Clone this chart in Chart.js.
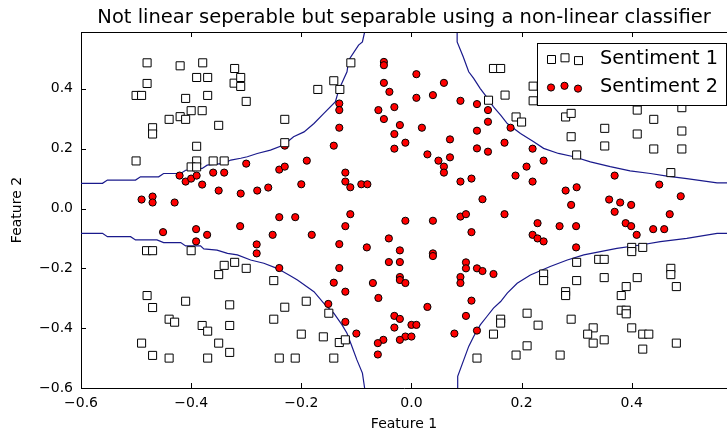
<!DOCTYPE html>
<html>
<head>
<meta charset="utf-8">
<script src="https://cdn.jsdelivr.net/npm/chart.js@4.4.1/dist/chart.umd.min.js"></script>
<style>
  body { margin: 0; background: #fff; }
  canvas { display: block; }
</style>
</head>
<body>
<canvas id="chart" width="727" height="433"></canvas>
<script>
// axis ticks
const xTicks = [-0.6, -0.4, -0.2, 0.0, 0.2, 0.4];
const yTicks = [-0.6, -0.4, -0.2, 0.0, 0.2, 0.4];

// class 1 (squares)
const sentiment1 = [
  [-0.48,0.487],[-0.42,0.477],[-0.379,0.487],[-0.321,0.468],[-0.48,0.418],[-0.39,0.438],[-0.37,0.438],
  [-0.322,0.419],[-0.31,0.438],[-0.31,0.408],[-0.50,0.378],[-0.49,0.378],[-0.41,0.368],[-0.37,0.378],
  [-0.30,0.358],[-0.40,0.327],[-0.38,0.327],[-0.44,0.298],[-0.42,0.307],[-0.41,0.298],[-0.47,0.27],
  [-0.47,0.249],[-0.35,0.278],[-0.23,0.298],[-0.39,0.208],[-0.50,0.159],[-0.39,0.159],[-0.40,0.139],
  [-0.39,0.139],[-0.36,0.159],[-0.34,0.159],[-0.23,0.22],
  [-0.11,0.487],[-0.17,0.398],[-0.141,0.427],[-0.13,0.398],[0.149,0.468],[0.14,0.362],
  [0.162,0.468],[0.17,0.379],[0.221,0.409],[0.221,0.36],[0.19,0.306],[0.2,0.289],[0.28,0.306],
  [0.29,0.318],[0.29,0.24],[0.30,0.179],[0.351,0.268],[0.351,0.209],[0.41,0.329],[0.41,0.249],
  [0.44,0.298],[0.44,0.199],[0.491,0.337],[0.491,0.259],[0.491,0.199],[0.471,0.12],
  [-0.481,-0.141],[-0.47,-0.141],[-0.4,-0.141],[-0.35,-0.221],[-0.34,-0.19],[-0.321,-0.18],[-0.30,-0.2],
  [-0.25,-0.241],[-0.23,-0.33],[-0.48,-0.291],[-0.47,-0.331],[-0.41,-0.31],[-0.33,-0.322],[-0.44,-0.37],
  [-0.43,-0.38],[-0.38,-0.391],[-0.37,-0.41],[-0.33,-0.391],[-0.25,-0.37],[-0.49,-0.45],[-0.35,-0.45],
  [-0.47,-0.491],[-0.44,-0.5],[-0.37,-0.5],[-0.33,-0.481],[-0.24,-0.5],
  [-0.191,-0.31],[-0.15,-0.35],[-0.2,-0.42],[-0.16,-0.429],[-0.131,-0.448],[-0.12,-0.439],[-0.211,-0.5],
  [-0.141,-0.5],[0.119,-0.5],[0.149,-0.42],
  [0.40,-0.13],[0.40,-0.144],[0.42,-0.13],[0.30,-0.18],[0.34,-0.17],[0.35,-0.17],[0.24,-0.219],
  [0.24,-0.241],[0.30,-0.241],[0.35,-0.231],[0.41,-0.231],[0.471,-0.2],[0.471,-0.221],[0.481,-0.261],
  [0.39,-0.261],[0.381,-0.291],[0.28,-0.278],[0.28,-0.291],[0.162,-0.37],[0.162,-0.383],[0.21,-0.35],
  [0.23,-0.39],[0.29,-0.37],[0.381,-0.34],[0.39,-0.34],[0.39,-0.352],[0.40,-0.399],[0.33,-0.399],
  [0.32,-0.42],[0.33,-0.45],[0.35,-0.439],[0.42,-0.42],[0.431,-0.42],[0.42,-0.47],[0.481,-0.45],
  [0.21,-0.459],[0.19,-0.49],[0.27,-0.49]
];

// class 2 (red circles)
const sentiment2 = [
  [-0.421,0.11],[-0.41,0.09],[-0.40,0.10],[-0.39,0.11],[-0.38,0.08],[-0.36,0.12],[-0.34,0.12],[-0.30,0.15],
  [-0.35,0.06],[-0.31,0.05],[-0.28,0.06],[-0.26,0.07],[-0.24,0.13],[-0.23,0.14],[-0.23,0.21],[-0.49,0.03],
  [-0.47,0.04],[-0.47,0.02],[-0.43,0.02],
  [-0.05,0.49],[-0.05,0.479],[0.009,0.449],[-0.05,0.42],[0.059,0.42],[-0.04,0.39],[0.039,0.379],[0.009,0.37],
  [0.089,0.36],[0.119,0.349],[0.139,0.329],[-0.131,0.351],[-0.131,0.329],[-0.06,0.329],[-0.031,0.339],
  [-0.05,0.299],[0.139,0.29],[-0.131,0.27],[-0.021,0.279],[0.019,0.27],[0.119,0.26],[-0.031,0.249],
  [-0.141,0.21],[-0.011,0.22],[0.07,0.231],[-0.031,0.2],[0.029,0.181],[0.07,0.171],[0.049,0.16],
  [0.059,0.14],[0.059,0.12],[0.119,0.201],[0.139,0.19],[-0.19,0.16],[-0.2,0.081],[-0.12,0.12],[-0.12,0.09],
  [-0.111,0.071],[-0.091,0.081],[-0.08,0.081],[0.089,0.09],[0.109,0.1],[0.129,0.031],
  [0.18,0.27],[0.169,0.22],[0.22,0.2],[0.24,0.16],[0.209,0.14],[0.189,0.11],[0.22,0.09],[0.369,0.11],
  [0.45,0.08],[0.28,0.06],[0.30,0.071],[0.489,0.041],[0.29,0.012],[0.359,0.03],[0.379,0.02],[0.399,0.012],
  [-0.24,-0.029],[-0.311,-0.059],[-0.451,-0.079],[-0.391,-0.069],[-0.371,-0.088],[-0.391,-0.11],
  [-0.252,-0.088],[-0.281,-0.12],[-0.281,-0.15],[-0.24,-0.199],
  [-0.211,-0.029],[-0.111,-0.019],[-0.12,-0.059],[-0.181,-0.088],[-0.131,-0.119],[-0.011,-0.041],
  [0.039,-0.041],[-0.041,-0.1],[-0.081,-0.13],[-0.021,-0.14],[0.039,-0.15],[0.039,-0.159],[-0.041,-0.179],
  [-0.021,-0.179],[-0.131,-0.199],[-0.021,-0.229],[-0.021,-0.239],[-0.011,-0.249],[-0.07,-0.249],
  [-0.141,-0.248],[-0.12,-0.278],[-0.06,-0.299],[-0.151,-0.319],[0.029,-0.329],[-0.031,-0.359],
  [-0.021,-0.369],[-0.031,-0.398],[0,-0.389],[0.009,-0.389],[-0.12,-0.379],[-0.1,-0.418],[-0.011,-0.428],
  [0,-0.428],[-0.021,-0.439],[-0.051,-0.439],[-0.061,-0.45],[-0.061,-0.488],[0.078,-0.418],[0.089,-0.027],
  [0.099,-0.019],[0.109,-0.079],[0.099,-0.18],[0.099,-0.2],[0.119,-0.2],[0.129,-0.209],[0.149,-0.219],
  [0.089,-0.229],[0.089,-0.249],[0.109,-0.308],[0.099,-0.359],[0.119,-0.408],
  [0.169,-0.019],[0.369,-0.011],[0.469,-0.019],[0.229,-0.049],[0.269,-0.059],[0.299,-0.059],[0.389,-0.049],
  [0.399,-0.059],[0.439,-0.069],[0.459,-0.069],[0.409,-0.088],[0.22,-0.088],[0.229,-0.1],[0.24,-0.11],
  [0.299,-0.13]
];

// decision boundary, four branches
const boundaryTopLeft = [
  [-0.6,0.084],[-0.561,0.084],[-0.552,0.095],[-0.501,0.095],[-0.492,0.106],[-0.459,0.106],[-0.45,0.117],
  [-0.419,0.117],[-0.41,0.128],[-0.38,0.134],[-0.371,0.145],[-0.341,0.151],[-0.328,0.162],[-0.31,0.168],
  [-0.298,0.173],[-0.28,0.184],[-0.256,0.195],[-0.232,0.212],[-0.214,0.24],[-0.195,0.256],[-0.177,0.284],
  [-0.159,0.318],[-0.138,0.357],[-0.132,0.396],[-0.117,0.457],[-0.114,0.496],[-0.096,0.546],[-0.089,0.557],
  [-0.085,0.59]
];
const boundaryTopRight = [
  [0.083,0.59],[0.083,0.557],[0.094,0.507],[0.104,0.457],[0.113,0.435],[0.125,0.401],[0.134,0.379],
  [0.149,0.34],[0.162,0.312],[0.174,0.284],[0.198,0.251],[0.222,0.223],[0.24,0.201],[0.267,0.184],
  [0.295,0.173],[0.325,0.156],[0.361,0.14],[0.397,0.126],[0.434,0.117],[0.464,0.108],[0.5,0.1],
  [0.555,0.086],[0.58,0.086]
];
const boundaryBottomLeft = [
  [-0.6,-0.083],[-0.561,-0.083],[-0.552,-0.094],[-0.51,-0.094],[-0.501,-0.105],[-0.462,-0.105],
  [-0.45,-0.114],[-0.419,-0.114],[-0.41,-0.125],[-0.383,-0.125],[-0.377,-0.135],[-0.353,-0.139],
  [-0.334,-0.15],[-0.316,-0.155],[-0.292,-0.172],[-0.268,-0.183],[-0.244,-0.2],[-0.22,-0.225],
  [-0.207,-0.239],[-0.177,-0.278],[-0.159,-0.317],[-0.141,-0.35],[-0.126,-0.389],[-0.117,-0.417],
  [-0.108,-0.461],[-0.099,-0.506],[-0.089,-0.55],[-0.085,-0.6]
];
const boundaryBottomRight = [
  [0.083,-0.6],[0.084,-0.561],[0.095,-0.506],[0.104,-0.461],[0.113,-0.428],[0.125,-0.389],[0.137,-0.361],
  [0.149,-0.333],[0.162,-0.311],[0.174,-0.283],[0.192,-0.25],[0.216,-0.222],[0.252,-0.194],[0.283,-0.172],
  [0.313,-0.155],[0.343,-0.144],[0.373,-0.133],[0.416,-0.122],[0.452,-0.111],[0.5,-0.1],[0.555,-0.083],
  [0.58,-0.083]
];

const FONT = "'DejaVu Sans', 'Liberation Sans', sans-serif";
const toXY = (pts) => pts.map(p => ({ x: p[0], y: p[1] }));
const fmt = (v) => (v < 0 ? '\u2212' : '') + Math.abs(v).toFixed(1);

function boundary(pts) {
  return {
    type: 'line',
    label: '',
    data: toXY(pts),
    borderColor: '#1a1a8c',
    borderWidth: 1.2,
    pointRadius: 0,
    fill: false,
    tension: 0,
    order: 3,
  };
}

// matplotlib-ish frame: top spine plus inward ticks
const frameTicks = {
  id: 'frameTicks',
  afterDatasetsDraw(chart) {
    const { ctx, chartArea: a, scales } = chart;
    ctx.save();
    ctx.strokeStyle = '#000';
    ctx.lineWidth = 1;
    ctx.beginPath();
    ctx.moveTo(a.left, a.top + 0.5);
    ctx.lineTo(a.right, a.top + 0.5);
    xTicks.forEach(v => {
      const px = Math.round(scales.x.getPixelForValue(v)) + 0.5;
      ctx.moveTo(px, a.bottom);
      ctx.lineTo(px, a.bottom - 5);
      ctx.moveTo(px, a.top);
      ctx.lineTo(px, a.top + 5);
    });
    yTicks.forEach(v => {
      const py = Math.round(scales.y.getPixelForValue(v)) + 0.5;
      ctx.moveTo(a.left, py);
      ctx.lineTo(a.left + 5, py);
    });
    ctx.stroke();
    ctx.restore();
  }
};

// legend with three markers per entry
const scatterLegend = {
  id: 'scatterLegend',
  afterDraw(chart) {
    const { ctx } = chart;
    const ds = chart.data.datasets;
    const box = { x: 537.5, y: 43.5, w: 189, h: 62 };
    ctx.save();
    ctx.fillStyle = '#fff';
    ctx.strokeStyle = '#000';
    ctx.lineWidth = 1;
    ctx.fillRect(box.x, box.y, box.w, box.h);
    ctx.strokeRect(box.x, box.y, box.w, box.h);
    const rows = [58.5, 87];
    const jitter = [0.5, -1.2, 1.6];
    const mx = [551, 564.5, 578];
    ctx.font = '19.3px ' + FONT;
    ctx.textBaseline = 'middle';
    [0, 1].forEach(i => {
      const d = ds[i];
      mx.forEach((x, k) => {
        const y = rows[i] + jitter[k];
        ctx.beginPath();
        if (d.pointStyle === 'rect') {
          ctx.rect(x - 3.5, y - 3.5, 8, 8);
        } else {
          ctx.arc(x, y, d.pointRadius, 0, Math.PI * 2);
        }
        ctx.fillStyle = d.backgroundColor;
        ctx.fill();
        ctx.strokeStyle = d.borderColor;
        ctx.stroke();
      });
      ctx.fillStyle = '#000';
      ctx.fillText(d.label, 600, rows[i]);
    });
    ctx.restore();
  }
};

new Chart(document.getElementById('chart'), {
  type: 'scatter',
  data: {
    datasets: [
      {
        label: 'Sentiment 1',
        data: toXY(sentiment1),
        pointStyle: 'rect',
        pointRadius: 5.7,
        backgroundColor: '#ffffff',
        borderColor: '#000000',
        borderWidth: 1,
        order: 1,
      },
      {
        label: 'Sentiment 2',
        data: toXY(sentiment2),
        pointStyle: 'circle',
        pointRadius: 3.6,
        backgroundColor: '#ff0000',
        borderColor: '#000000',
        borderWidth: 1,
        order: 2,
      },
      boundary(boundaryTopLeft),
      boundary(boundaryTopRight),
      boundary(boundaryBottomLeft),
      boundary(boundaryBottomRight),
    ]
  },
  options: {
    responsive: false,
    animation: false,
    layout: { padding: 0, autoPadding: false },
    clip: true,
    scales: {
      x: {
        type: 'linear',
        min: -0.6,
        max: 0.573,
        afterBuildTicks: (s) => { s.ticks = xTicks.map(v => ({ value: v })); },
        afterFit: (s) => { s.height = 45; s.paddingLeft = 0; s.paddingRight = 0; },
        grid: { display: false, drawTicks: false },
        border: { display: true, color: '#000', width: 1 },
        ticks: {
          color: '#000',
          font: { family: FONT, size: 14 },
          padding: 7,
          maxRotation: 0,
          autoSkip: false,
          callback: (v) => fmt(v),
        },
        title: {
          display: true,
          text: 'Feature 1',
          color: '#000',
          font: { family: FONT, size: 14 },
          padding: { top: 0, bottom: 0 },
        },
      },
      y: {
        type: 'linear',
        min: -0.6,
        max: 0.59,
        afterBuildTicks: (s) => { s.ticks = yTicks.map(v => ({ value: v })); },
        afterFit: (s) => { s.width = 81; s.paddingTop = 0; s.paddingBottom = 0; },
        grid: { display: false, drawTicks: false },
        border: { display: true, color: '#000', width: 1 },
        ticks: {
          color: '#000',
          font: { family: FONT, size: 14 },
          padding: 8,
          autoSkip: false,
          callback: (v) => fmt(v),
        },
        title: {
          display: true,
          text: 'Feature 2',
          color: '#000',
          font: { family: FONT, size: 14 },
          padding: { top: 9, bottom: 0 },
        },
      },
    },
    plugins: {
      legend: { display: false },
      tooltip: { enabled: false },
      title: {
        display: true,
        fullSize: false,
        text: 'Not linear seperable but separable using a non-linear classifier',
        color: '#000',
        font: { family: FONT, size: 19.5, weight: 'normal' },
        padding: { top: 6, bottom: 2.6 },
      },
    },
  },
  plugins: [frameTicks, scatterLegend],
});
</script>
</body>
</html>
